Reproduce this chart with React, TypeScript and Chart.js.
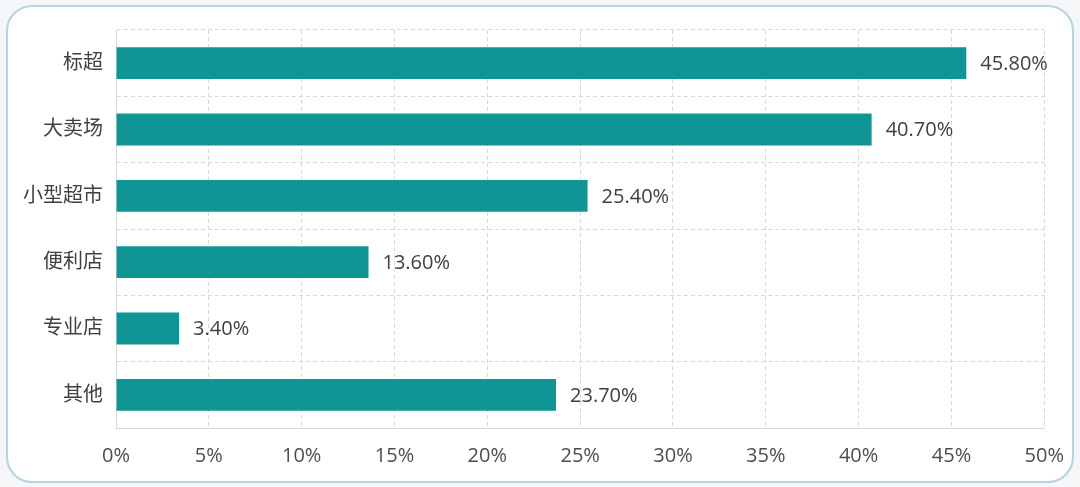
import React, { useEffect, useRef } from "react";
import { Chart, registerables } from "chart.js";

Chart.register(...registerables);

const categories = ["标超", "大卖场", "小型超市", "便利店", "专业店", "其他"];
const shares = [45.8, 40.7, 25.4, 13.6, 3.4, 23.7];
const xTicks = [0, 5, 10, 15, 20, 25, 30, 35, 40, 45, 50];

const FONT = '"Open Sans", "Noto Sans CJK SC", sans-serif';

const valueLabels = {
  id: "valueLabels",
  afterDatasetsDraw(chart: any) {
    const ctx = chart.ctx;
    const meta = chart.getDatasetMeta(0);
    ctx.save();
    ctx.font = `20px ${FONT}`;
    ctx.fillStyle = "#404040";
    ctx.textAlign = "left";
    ctx.textBaseline = "middle";
    meta.data.forEach((bar: any, i: number) => {
      ctx.fillText(shares[i].toFixed(2) + "%", bar.x + 14, bar.y + 1);
    });
    ctx.restore();
  },
};

export default function App() {
  const ref = useRef<HTMLCanvasElement>(null);
  useEffect(() => {
    if (!ref.current) return;
    const chart = new Chart(ref.current, {
      type: "bar",
      data: {
        labels: categories,
        datasets: [
          {
            data: shares,
            backgroundColor: "#0E9594",
            borderWidth: 0,
            barPercentage: 0.6,
            categoryPercentage: 0.8,
          },
        ],
      },
      options: {
        indexAxis: "y",
        animation: false,
        responsive: false,
        maintainAspectRatio: false,
        layout: { padding: { left: 0, top: 30, right: 35, bottom: 0 } },
        plugins: { legend: { display: false }, tooltip: { enabled: false } },
        scales: {
          x: {
            min: 0,
            max: 50,
            afterBuildTicks(scale: any) {
              scale.ticks = xTicks.map((v) => ({ value: v }));
            },
            afterFit(scale: any) {
              scale.height = 59;
            },
            ticks: {
              font: { family: FONT, size: 20 },
              color: "#4d4d4d",
              padding: 16,
              callback: (v: any) => v + "%",
            },
            grid: {
              color: "#d9d9d9",
              drawTicks: false,
              lineWidth: 1,
            },
            border: { display: true, dash: [4, 3], color: "#d9d9d9" },
          },
          y: {
            afterFit(scale: any) {
              scale.width = 116;
            },
            ticks: {
              font: { family: FONT, size: 20 },
              color: "#404040",
              padding: 13,
            },
            grid: {
              color: "#d9d9d9",
              drawTicks: false,
              offset: true,
            },
            border: { display: true, dash: [4, 3], color: "#d9d9d9" },
          },
        },
      },
      plugins: [valueLabels],
    } as any);
    return () => chart.destroy();
  }, []);

  return (
    <div
      style={{
        position: "fixed",
        left: 0,
        top: 0,
        width: 1080,
        height: 487,
        background: "#f4f6f7",
      }}
    >
      <div
        style={{
          position: "absolute",
          left: 6,
          top: 5,
          width: 1064,
          height: 474,
          border: "2px solid #b2d5df",
          borderRadius: 26,
          background: "#ffffff",
        }}
      />
      <canvas
        ref={ref}
        width={1080}
        height={487}
        style={{ position: "absolute", left: 0, top: 0, width: 1080, height: 487 }}
      />
    </div>
  );
}
